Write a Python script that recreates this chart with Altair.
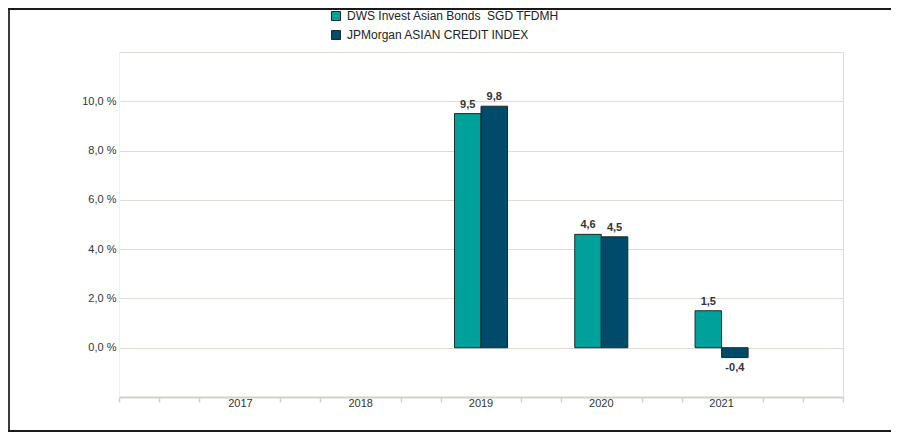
import altair as alt
import pandas as pd

years = ["2017", "2018", "2019", "2020", "2021"]
series_names = ["DWS Invest Asian Bonds \u00a0SGD TFDMH", "JPMorgan ASIAN CREDIT INDEX"]
fund_values = [None, None, 9.5, 4.6, 1.5]
index_values = [None, None, 9.8, 4.5, -0.4]
y_ticks = [0, 2, 4, 6, 8, 10, 12]
minor_ticks = [0, 1, 2, 4, 5, 7, 8, 10, 11, 13, 14, 16, 17, 18]
colors = ["#00A09B", "#004A6A"]

rows = []
for i, yr in enumerate(years):
    for s, vals in zip(series_names, [fund_values, index_values]):
        if vals[i] is not None:
            rows.append({"year": yr, "series": s, "value": vals[i]})
df = pd.DataFrame(rows)

FONT = "Liberation Sans"
x_scale = alt.Scale(domain=years, paddingInner=0.559, paddingOuter=0.789)
x_enc = alt.X("year:N", scale=x_scale, sort=years,
              axis=alt.Axis(title=None, orient="bottom", domain=False, ticks=False,
                            labelPadding=0, labelFontSize=11, labelColor="#333333",
                            labelAngle=0, grid=False, labelFont=FONT))
xoff = alt.XOffset("series:N", sort=series_names, scale=alt.Scale(domain=series_names, paddingInner=0, paddingOuter=0))
y_enc = alt.Y("value:Q", scale=alt.Scale(domain=[-2, 12], nice=False, zero=False),
              axis=alt.Axis(values=y_ticks, title=None,
                            labelExpr="datum.value > 11 ? '' : replace(format(datum.value, '.1f'), '.', ',') + ' %'",
                            ticks=False, domain=True, domainColor="#F0F0F0", domainWidth=1,
                            gridColor="#DEDBD4", gridWidth=1.2, labelPadding=3,
                            labelFontSize=11, labelColor="#333333", labelFont=FONT))

bars = alt.Chart(df).mark_bar(stroke="#1b2a2c", strokeWidth=1).encode(
    x=x_enc,
    xOffset=xoff,
    y=y_enc,
    color=alt.Color("series:N",
                    scale=alt.Scale(domain=series_names, range=colors),
                    legend=alt.Legend(title=None, orient="none", legendX=211, legendY=-42,
                                      symbolType="square", symbolSize=81,
                                      symbolStrokeColor="#1b2a2c", symbolStrokeWidth=1,
                                      symbolOpacity=1, labelLimit=0,
                                      labelFontSize=12, labelColor="#222222", labelFont=FONT,
                                      labelOffset=5, rowPadding=5, padding=0)),
)

text_base = alt.Chart(df).transform_calculate(
    label="replace(replace(format(datum.value, '.1f'), '.', ','), '\u2212', '-')"
)
text_pos = text_base.transform_filter("datum.value >= 0").mark_text(
    dy=-9, fontSize=11, fontWeight="bold", color="#333333", font=FONT
).encode(x=x_enc, xOffset=xoff, y=y_enc, text="label:N")
text_neg = text_base.transform_filter("datum.value < 0").mark_text(
    dy=10, fontSize=11, fontWeight="bold", color="#333333", font=FONT
).encode(x=x_enc, xOffset=xoff, y=y_enc, text="label:N")

main = alt.layer(bars, text_pos, text_neg)

tick_df = pd.DataFrame({"t": minor_ticks})
ticks_layer = alt.Chart(tick_df).mark_point(opacity=0).encode(
    x=alt.X("t:Q", scale=alt.Scale(domain=[0, 18], nice=False, zero=False),
            axis=alt.Axis(values=minor_ticks, labels=False, title=None, orient="bottom",
                          grid=False, tickColor="#D3D0C8", tickSize=5, tickWidth=1.5,
                          domainColor="#D3D0C8", domainWidth=2))
)

one = pd.DataFrame({"a": [0]})
frame_left = alt.Chart(one).mark_rule(color="#3a3a3a", strokeWidth=2).encode(
    x=alt.value(-110), y=alt.value(-43), y2=alt.value(379))
frame_top = alt.Chart(one).mark_rule(color="#1a1a1a", strokeWidth=2).encode(
    x=alt.value(-111), x2=alt.value(772), y=alt.value(-43))
frame_bottom = alt.Chart(one).mark_rule(color="#1a1a1a", strokeWidth=2).encode(
    x=alt.value(-111), x2=alt.value(772), y=alt.value(379))

chart = alt.layer(main, ticks_layer, frame_left, frame_top, frame_bottom).resolve_scale(
    x="independent"
).properties(
    width=724, height=345,
    padding={"left": 111, "top": 44, "right": 48, "bottom": 36},
    autosize=alt.AutoSizeParams(type="none"),
    background="white",
).configure_view(stroke=None).configure(font=FONT)

chart.save("out.html", embed_options={"renderer": "svg", "actions": False})
